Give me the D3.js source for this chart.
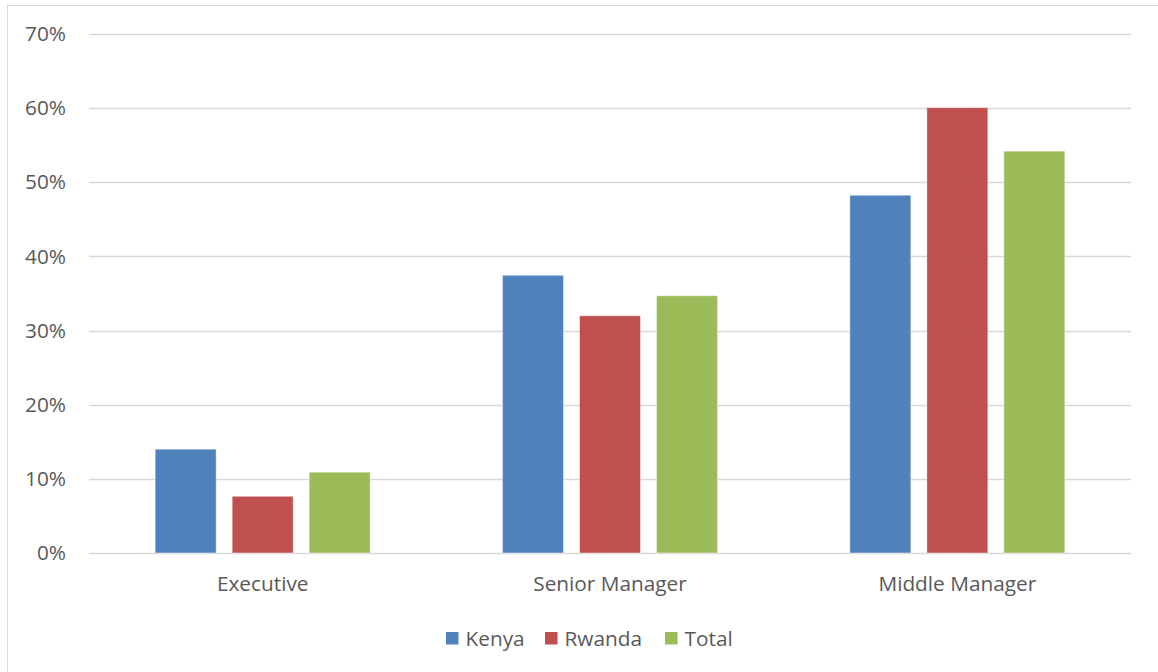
<!DOCTYPE html>
<html>
<head>
<meta charset="utf-8">
<script src="https://cdn.jsdelivr.net/npm/d3@7"></script>
<style>
  html, body { margin: 0; padding: 0; background: #fff; }
  svg { display: block; }
  text { font-family: "Open Sans", sans-serif; fill: #595959; }
</style>
</head>
<body>
<svg id="chart" width="1158" height="672"></svg>
<script>
// Share of respondents by management level
const categories = ["Executive", "Senior Manager", "Middle Manager"];
const seriesNames = ["Kenya", "Rwanda", "Total"];
const kenya  = [0.140, 0.3746, 0.4825];
const rwanda = [0.0765, 0.320, 0.6007];
const total  = [0.109, 0.347, 0.542];
const yTicks = [0, 0.1, 0.2, 0.3, 0.4, 0.5, 0.6, 0.7];

const seriesValues = [kenya, rwanda, total];
const colors = ["#4F81BD", "#C0504D", "#9BBB59"];
const fontSize = 20.8;

const svg = d3.select("#chart");
const W = 1158, H = 672;

// outer chart frame
svg.append("rect")
  .attr("x", 7.5).attr("y", 5.5)
  .attr("width", W + 10).attr("height", H + 10)
  .attr("fill", "#fff").attr("stroke", "#D9D9D9").attr("stroke-width", 1);

const plot = { left: 89, right: 1131, top: 34, bottom: 553 };

const x0 = d3.scaleBand()
  .domain(categories)
  .range([plot.left, plot.right])
  .paddingInner(0).paddingOuter(0);

// bars inside each category: 61px wide with 16px gaps, centred in the band
const groupInner = d3.scaleBand()
  .domain(seriesNames)
  .range([0, 215])
  .paddingInner(16 / 77)
  .paddingOuter(0);

const y = d3.scaleLinear().domain([0, 0.7]).range([plot.bottom, plot.top]);

// gridlines
svg.append("g")
  .selectAll("line")
  .data(yTicks)
  .join("line")
  .attr("x1", plot.left).attr("x2", plot.right)
  .attr("y1", d => Math.round(y(d)) + 0.5)
  .attr("y2", d => Math.round(y(d)) + 0.5)
  .attr("stroke", "#D9D9D9").attr("stroke-width", 1.3);

// y axis labels
const yAxis = d3.axisLeft(y)
  .tickValues(yTicks)
  .tickFormat(d3.format(".0%"))
  .tickSize(0)
  .tickPadding(0);
const yg = svg.append("g")
  .attr("transform", `translate(66,0)`)
  .call(yAxis);
yg.select(".domain").remove();
yg.selectAll("text")
  .attr("font-family", "Open Sans, sans-serif")
  .attr("font-size", fontSize)
  .attr("fill", "#595959");

// bars
const groups = svg.append("g")
  .selectAll("g")
  .data(categories)
  .join("g")
  .attr("transform", c => `translate(${x0(c) + (x0.bandwidth() - 215) / 2},0)`);

groups.selectAll("rect")
  .data((c, i) => seriesNames.map((s, j) => ({ s, j, v: seriesValues[j][i] })))
  .join("rect")
  .attr("x", d => groupInner(d.s))
  .attr("width", groupInner.bandwidth())
  .attr("y", d => y(d.v))
  .attr("height", d => y(0) - y(d.v))
  .attr("fill", d => colors[d.j])
  .attr("stroke", "rgba(255,255,255,0.45)")
  .attr("stroke-width", 1);

// category axis labels
const xAxis = d3.axisBottom(x0).tickSize(0).tickPadding(0);
const xg = svg.append("g")
  .attr("transform", `translate(0,${plot.bottom + 23})`)
  .call(xAxis);
xg.select(".domain").remove();
xg.selectAll("text")
  .attr("font-family", "Open Sans, sans-serif")
  .attr("font-size", fontSize)
  .attr("fill", "#595959");

// legend
const legendX = [446, 545, 665];
const legend = svg.append("g")
  .selectAll("g")
  .data(seriesNames)
  .join("g")
  .attr("transform", (d, i) => `translate(${legendX[i]},632)`);
legend.append("rect")
  .attr("width", 12.5).attr("height", 12.5)
  .attr("fill", (d, i) => colors[i]);
legend.append("text")
  .attr("x", 19.5).attr("y", 6.5)
  .attr("dy", "0.35em")
  .attr("font-size", fontSize)
  .text(d => d);
</script>
</body>
</html>
